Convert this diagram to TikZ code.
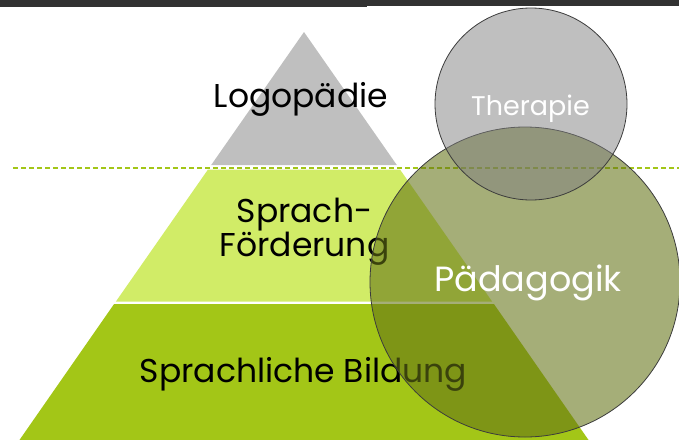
\documentclass[tikz,border=0pt]{standalone}
\usepackage{fontspec}
\setmainfont{Poppins}

\definecolor{barGray}{HTML}{323232}
\definecolor{tipGray}{HTML}{BFBFBF}
\definecolor{lightLime}{HTML}{D1EC67}
\definecolor{baseLime}{HTML}{A3C617}
\definecolor{paedOlive}{RGB}{100,115,22}
\definecolor{ringLine}{HTML}{3C3C3C}

\tikzset{
  tiertext/.style={font=\fontsize{33}{29}\selectfont, inner sep=0pt, anchor=base},
  ring/.style={draw=ringLine, line width=0.8pt}
}

\begin{document}
\begin{tikzpicture}[x=1pt, y=-1pt, line join=round]
  \useasboundingbox (0,0) rectangle (679,439);
  % Dark strip along the top edge, a touch deeper on the left.
  \fill[barGray] (0,0) rectangle (367,7.3);
  \fill[barGray] (367,0) rectangle (679,6.3);
  % The pyramid: three bands on the same two slopes, white gaps between them.
  \fill[tipGray] (304,32) -- (396.8,165) -- (211.2,165) -- cycle;
  \fill[lightLime] (208,169.5) -- (400,169.5) -- (492.1,301.5) -- (115.9,301.5) -- cycle;
  \fill[baseLime] (114.1,304) -- (493.9,304) -- (592,445) -- (16,445) -- cycle;
  % Level line through the gap under the tip.
  \draw[draw=baseLime, line width=2pt, dash pattern=on 5pt off 3pt] (13,167.5) -- (679,167.5);
  % Band labels (a two-line node sits on its last baseline).
  \node[tiertext] (logo) at (301,107) {Logopädie};
  \node[tiertext, align=center] (foerderung) at (304.5,256) {Sprach-\\Förderung};
  \node[tiertext] (bildung) at (303.5,382) {Sprachliche Bildung};
  % The two overlapping fields, see-through so the pyramid shows under them.
  \draw[ring, fill=paedOlive, fill opacity=0.58] (525,282) circle (155pt);
  \draw[ring, fill=gray, fill opacity=0.5] (531,104) circle (96pt);
  \node[tiertext, white, font=\fontsize{35}{35}\selectfont] (paed) at (528,291) {Pädagogik};
  \node[tiertext, white, font=\fontsize{27}{27}\selectfont] (therapie) at (530.5,115) {Therapie};
\end{tikzpicture}
\end{document}
